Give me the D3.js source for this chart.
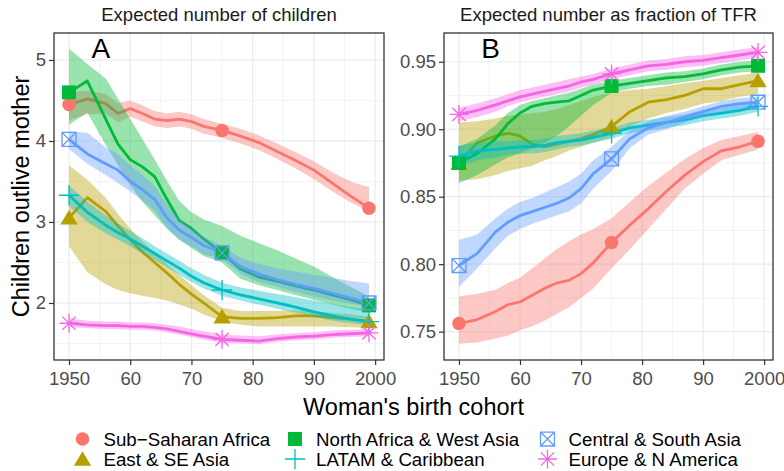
<!DOCTYPE html>
<html><head><meta charset="utf-8">
<script src="https://cdn.jsdelivr.net/npm/d3@7"></script>
<style>body{margin:0;background:#fff}svg{display:block;font-family:"Liberation Sans",Arial,sans-serif}</style>
</head><body><svg id="c" width="784" height="471"></svg>
<script>
// ---------- data ----------
const years = [1950,1953,1956,1958,1960,1962,1964,1966,1968,1970,1972,1975,1978,1981,1984,1987,1990,1993,1996,1999];
const markerYears = [1950,1975,1999];
const regions = ["Sub\u2212Saharan Africa","East & SE Asia","North Africa & West Asia","LATAM & Caribbean","Central & South Asia","Europe & N America"];
const colors = ["#F8766D","#B79F00","#00BA38","#00BFC4","#619CFF","#F564E3"];
const shapes = ["circle","triangle","square","plus","squarecross","asterisk"];
const panelTitles = ["Expected number of children","Expected number as fraction of TFR"];
const panelTags = ["A","B"];
const xTicks = [1950,1960,1970,1980,1990,2000];
const xTickLabels = ["1950","60","70","80","90","2000"];
const yTicksA = [2,3,4,5];
const yTicksB = [0.75,0.80,0.85,0.90,0.95];

// Panel A: expected number of children outliving mother
const ssaA    = [4.45,4.52,4.46,4.34,4.40,4.34,4.27,4.25,4.27,4.24,4.18,4.13,4.06,3.98,3.87,3.76,3.64,3.48,3.32,3.17];
const ssaA_lo = [4.26,4.33,4.34,4.23,4.30,4.24,4.18,4.16,4.18,4.15,4.09,4.04,3.97,3.89,3.78,3.66,3.53,3.38,3.24,3.13];
const ssaA_hi = [4.60,4.62,4.58,4.47,4.50,4.44,4.37,4.34,4.36,4.33,4.27,4.21,4.15,4.07,3.97,3.86,3.75,3.61,3.50,3.43];
const eseA    = [3.05,3.30,3.13,2.95,2.78,2.63,2.50,2.37,2.23,2.11,2.00,1.83,1.81,1.81,1.82,1.84,1.84,1.82,1.80,1.77];
const eseA_lo = [2.70,2.38,2.23,2.16,2.12,2.09,2.06,2.03,1.98,1.93,1.86,1.77,1.73,1.71,1.71,1.71,1.71,1.71,1.70,1.69];
const eseA_hi = [3.70,3.52,3.30,3.10,2.92,2.76,2.62,2.48,2.35,2.22,2.10,1.94,1.90,1.90,1.90,1.91,1.90,1.88,1.86,1.83];
const nawA    = [4.60,4.74,4.27,3.96,3.77,3.68,3.56,3.28,3.02,2.92,2.79,2.62,2.42,2.32,2.27,2.21,2.16,2.10,2.04,1.97];
const nawA_lo = [4.20,4.35,3.95,3.70,3.45,3.25,3.08,2.92,2.78,2.68,2.58,2.50,2.30,2.22,2.16,2.10,2.04,1.98,1.93,1.88];
const nawA_hi = [5.14,4.95,4.77,4.52,4.27,4.02,3.77,3.51,3.26,3.12,3.03,2.95,2.83,2.74,2.65,2.55,2.45,2.32,2.20,2.08];
const latA    = [3.33,3.12,2.96,2.87,2.79,2.70,2.61,2.52,2.43,2.33,2.25,2.16,2.10,2.05,2.00,1.95,1.89,1.84,1.80,1.77];
const latA_lo = [3.20,3.00,2.86,2.78,2.70,2.61,2.53,2.44,2.35,2.26,2.18,2.09,2.03,1.98,1.93,1.88,1.83,1.78,1.75,1.73];
const latA_hi = [3.45,3.25,3.08,2.98,2.89,2.80,2.70,2.61,2.52,2.43,2.35,2.25,2.19,2.15,2.11,2.07,2.03,1.99,1.95,1.92];
const csaA    = [4.02,3.84,3.72,3.64,3.50,3.40,3.28,3.05,2.90,2.81,2.71,2.62,2.45,2.36,2.29,2.23,2.18,2.12,2.06,2.00];
const csaA_lo = [3.90,3.72,3.58,3.48,3.38,3.26,3.14,2.92,2.78,2.70,2.60,2.55,2.36,2.26,2.20,2.14,2.08,2.03,1.99,1.95];
const csaA_hi = [4.12,4.10,3.92,3.84,3.70,3.58,3.44,3.22,3.04,2.92,2.82,2.70,2.56,2.48,2.43,2.39,2.35,2.31,2.27,2.24];
const enaA    = [1.75,1.73,1.72,1.72,1.71,1.71,1.70,1.68,1.65,1.62,1.59,1.55,1.54,1.53,1.56,1.58,1.59,1.61,1.62,1.63];
const enaA_lo = [1.70,1.69,1.68,1.68,1.67,1.67,1.66,1.64,1.61,1.58,1.55,1.51,1.50,1.49,1.52,1.54,1.55,1.57,1.58,1.59];
const enaA_hi = [1.81,1.78,1.77,1.77,1.76,1.76,1.75,1.73,1.71,1.68,1.65,1.61,1.60,1.59,1.61,1.63,1.64,1.66,1.67,1.68];

// Panel B: expected number as fraction of TFR
const ssaB    = [0.756,0.759,0.765,0.770,0.772,0.777,0.782,0.786,0.788,0.793,0.801,0.816,0.829,0.841,0.854,0.866,0.876,0.884,0.887,0.891];
const ssaB_lo = [0.741,0.742,0.745,0.747,0.751,0.754,0.758,0.763,0.768,0.775,0.782,0.797,0.811,0.826,0.841,0.856,0.867,0.877,0.881,0.885];
const ssaB_hi = [0.776,0.778,0.781,0.786,0.790,0.797,0.804,0.811,0.817,0.822,0.826,0.834,0.846,0.858,0.868,0.878,0.886,0.892,0.895,0.898];
const eseB    = [0.875,0.890,0.895,0.897,0.895,0.889,0.887,0.889,0.891,0.893,0.896,0.902,0.913,0.920,0.922,0.925,0.930,0.930,0.933,0.936];
const eseB_lo = [0.862,0.863,0.866,0.869,0.871,0.873,0.877,0.880,0.884,0.887,0.890,0.894,0.902,0.908,0.912,0.915,0.919,0.921,0.924,0.926];
const eseB_hi = [0.905,0.906,0.908,0.910,0.911,0.912,0.913,0.915,0.918,0.921,0.924,0.927,0.929,0.930,0.932,0.934,0.936,0.938,0.940,0.942];
const nawB    = [0.875,0.882,0.893,0.904,0.912,0.917,0.919,0.920,0.921,0.925,0.929,0.932,0.934,0.936,0.938,0.939,0.941,0.944,0.946,0.947];
const nawB_lo = [0.860,0.866,0.874,0.879,0.882,0.886,0.890,0.895,0.902,0.910,0.918,0.927,0.930,0.932,0.933,0.935,0.937,0.940,0.942,0.943];
const nawB_hi = [0.887,0.893,0.903,0.912,0.918,0.921,0.923,0.925,0.927,0.930,0.933,0.936,0.938,0.940,0.942,0.943,0.945,0.948,0.950,0.951];
const latB    = [0.880,0.884,0.885,0.886,0.887,0.887,0.888,0.890,0.891,0.892,0.894,0.897,0.901,0.903,0.905,0.907,0.910,0.912,0.914,0.917];
const latB_lo = [0.872,0.877,0.879,0.881,0.882,0.882,0.883,0.885,0.887,0.888,0.890,0.893,0.897,0.899,0.901,0.903,0.906,0.908,0.910,0.913];
const latB_hi = [0.888,0.890,0.891,0.891,0.892,0.892,0.893,0.895,0.896,0.897,0.899,0.901,0.905,0.907,0.909,0.911,0.914,0.916,0.918,0.921];
const csaB    = [0.799,0.808,0.824,0.831,0.836,0.839,0.842,0.845,0.849,0.856,0.867,0.878,0.893,0.901,0.905,0.909,0.913,0.917,0.919,0.920];
const csaB_lo = [0.783,0.797,0.812,0.821,0.826,0.830,0.833,0.836,0.839,0.845,0.856,0.869,0.886,0.896,0.900,0.905,0.909,0.913,0.915,0.916];
const csaB_hi = [0.818,0.822,0.834,0.841,0.846,0.849,0.853,0.857,0.861,0.867,0.877,0.887,0.899,0.906,0.910,0.913,0.917,0.921,0.923,0.924];
const enaB    = [0.911,0.914,0.918,0.921,0.924,0.926,0.928,0.930,0.932,0.935,0.937,0.941,0.944,0.947,0.948,0.950,0.951,0.953,0.955,0.957];
const enaB_lo = [0.906,0.909,0.913,0.917,0.920,0.922,0.924,0.926,0.928,0.931,0.933,0.937,0.940,0.943,0.944,0.946,0.947,0.949,0.951,0.953];
const enaB_hi = [0.916,0.919,0.923,0.926,0.929,0.931,0.933,0.935,0.937,0.939,0.941,0.945,0.948,0.951,0.952,0.954,0.955,0.957,0.959,0.961];

const panelA = [[ssaA,ssaA_lo,ssaA_hi],[eseA,eseA_lo,eseA_hi],[nawA,nawA_lo,nawA_hi],[latA,latA_lo,latA_hi],[csaA,csaA_lo,csaA_hi],[enaA,enaA_lo,enaA_hi]];
const panelB = [[ssaB,ssaB_lo,ssaB_hi],[eseB,eseB_lo,eseB_hi],[nawB,nawB_lo,nawB_hi],[latB,latB_lo,latB_hi],[csaB,csaB_lo,csaB_hi],[enaB,enaB_lo,enaB_hi]];

// ---------- drawing ----------
const svg = d3.select("#c");
const FONT = '"Liberation Sans",Arial,sans-serif';

function shapePath(kind, s) {
  const h = s/2;
  switch(kind){
    case "circle": return d3.symbol(d3.symbolCircle, Math.PI*Math.pow(h*0.9,2))();
    case "square": return `M${-h*0.93},${-h*0.93}H${h*0.93}V${h*0.93}H${-h*0.93}Z`;
    case "triangle": { const w=h*1.15, t=h*1.05; return `M0,${-t}L${w},${t*0.85}L${-w},${t*0.85}Z`; }
    case "plus": { const a=h*1.35; return `M${-a},0H${a}M0,${-a}V${a}`; }
    case "squarecross": { const a=h*0.93; return `M${-a},${-a}H${a}V${a}H${-a}Z M${-a},${-a}L${a},${a}M${a},${-a}L${-a},${a}`; }
    case "asterisk": { const a=h*1.25, d=a*0.7071; return `M${-a},0H${a}M0,${-a}V${a}M${-d},${-d}L${d},${d}M${d},${-d}L${-d},${d}`; }
  }
}
function drawShape(g, kind, color, x, y) {
  const filled = kind==="circle"||kind==="square"||kind==="triangle";
  g.append("path").attr("d", shapePath(kind, 15)).attr("transform",`translate(${x},${y})`)
    .attr("fill", filled?color:"none").attr("stroke", filled?"none":color)
    .attr("stroke-width", 1.3);
}

function panel(p) {
  const {x0,x1,y0,y1,ydom,yticks,ymin,data,title,tag,fmt} = p;
  const x = d3.scaleLinear().domain([1947.55,2001.45]).range([x0,x1]);
  const y = d3.scaleLinear().domain(ydom).range([y1,y0]);
  const g = svg.append("g");
  const clipId = "clip"+tag;
  svg.append("clipPath").attr("id",clipId).append("rect").attr("x",x0).attr("y",y0).attr("width",x1-x0).attr("height",y1-y0);
  const xMinor = [1955,1965,1975,1985,1995];
  g.selectAll(".gxm").data(xMinor).join("line").attr("x1",d=>x(d)).attr("x2",d=>x(d)).attr("y1",y0).attr("y2",y1).attr("stroke","#EBEBEB").attr("stroke-width",0.6);
  g.selectAll(".gym").data(ymin).join("line").attr("y1",d=>y(d)).attr("y2",d=>y(d)).attr("x1",x0).attr("x2",x1).attr("stroke","#EBEBEB").attr("stroke-width",0.6);
  g.selectAll(".gx").data(xTicks).join("line").attr("x1",d=>x(d)).attr("x2",d=>x(d)).attr("y1",y0).attr("y2",y1).attr("stroke","#EBEBEB").attr("stroke-width",1.2);
  g.selectAll(".gy").data(yticks).join("line").attr("y1",d=>y(d)).attr("y2",d=>y(d)).attr("x1",x0).attr("x2",x1).attr("stroke","#EBEBEB").attr("stroke-width",1.2);

  const pg = g.append("g").attr("clip-path",`url(#${clipId})`);
  const area = d3.area().x((d,i)=>x(years[i])).y0(d=>y(d[0])).y1(d=>y(d[1]));
  const line = d3.line().x((d,i)=>x(years[i])).y(d=>y(d));
  data.forEach((s,k)=>{
    const band = s[1].map((lo,i)=>[lo,s[2][i]]);
    pg.append("path").attr("d",area(band)).attr("fill",colors[k]).attr("fill-opacity",0.4);
    pg.append("path").attr("d",line(s[0])).attr("fill","none").attr("stroke",colors[k]).attr("stroke-width",2.8).attr("stroke-linejoin","round");
  });
  data.forEach((s,k)=>{
    markerYears.forEach(my=>{
      const i = years.indexOf(my);
      drawShape(g, shapes[k], colors[k], x(my), y(s[0][i]));
    });
  });
  g.append("rect").attr("x",x0).attr("y",y0).attr("width",x1-x0).attr("height",y1-y0).attr("fill","none").attr("stroke","#333333").attr("stroke-width",1.3);
  const xa = g.append("g").attr("transform",`translate(0,${y1})`).call(d3.axisBottom(x).tickValues(xTicks).tickFormat((d,i)=>xTickLabels[i]).tickSize(5).tickPadding(3));
  const ya = g.append("g").attr("transform",`translate(${x0},0)`).call(d3.axisLeft(y).tickValues(yticks).tickFormat(fmt).tickSize(5).tickPadding(3));
  [xa,ya].forEach(a=>{
    a.select(".domain").remove();
    a.selectAll("line").attr("stroke","#333333").attr("stroke-width",1.2);
    a.selectAll("text").attr("fill","#4D4D4D").attr("font-size",18.5).attr("font-family",FONT);
  });
  xa.selectAll("text").attr("dy","0.93em");
  g.append("text").attr("x",(x0+x1)/2).attr("y",21).attr("text-anchor","middle").attr("font-size",18.5).attr("fill","#1a1a1a").attr("font-family",FONT).text(title);
  g.append("text").attr("x",x(1955.2)).attr("y",y0+25).attr("text-anchor","middle").attr("font-size",28).attr("fill","#000").attr("font-family",FONT).text(tag);
}

panel({x0:54,x1:384,y0:33,y1:360,ydom:[1.296,5.333],yticks:yTicksA,ymin:[1.5,2.5,3.5,4.5],data:panelA,title:panelTitles[0],tag:panelTags[0],fmt:d3.format("d")});
panel({x0:444,x1:773,y0:33,y1:360,ydom:[0.729,0.9713],yticks:yTicksB,ymin:[0.775,0.825,0.875,0.925],data:panelB,title:panelTitles[1],tag:panelTags[1],fmt:d3.format(".2f")});

svg.append("text").attr("transform","translate(29,196.5) rotate(-90)").attr("text-anchor","middle").attr("font-size",23.5).attr("font-family",FONT).attr("fill","#000").text("Children outlive mother");
svg.append("text").attr("x",413.5).attr("y",415).attr("text-anchor","middle").attr("font-size",23.5).attr("font-family",FONT).attr("fill","#000").text("Woman's birth cohort");

const legX = [82.5,295,547.5], legY=[439,459];
regions.forEach((r,k)=>{
  const col = Math.floor(k/2), row = k%2;
  const lg = svg.append("g");
  drawShape(lg, shapes[k], colors[k], legX[col], legY[row]);
  lg.append("text").attr("x",legX[col]+21).attr("y",legY[row]).attr("dy","0.35em").attr("font-size",18.7).attr("font-family",FONT).attr("fill","#000").text(r);
});
</script></body></html>
